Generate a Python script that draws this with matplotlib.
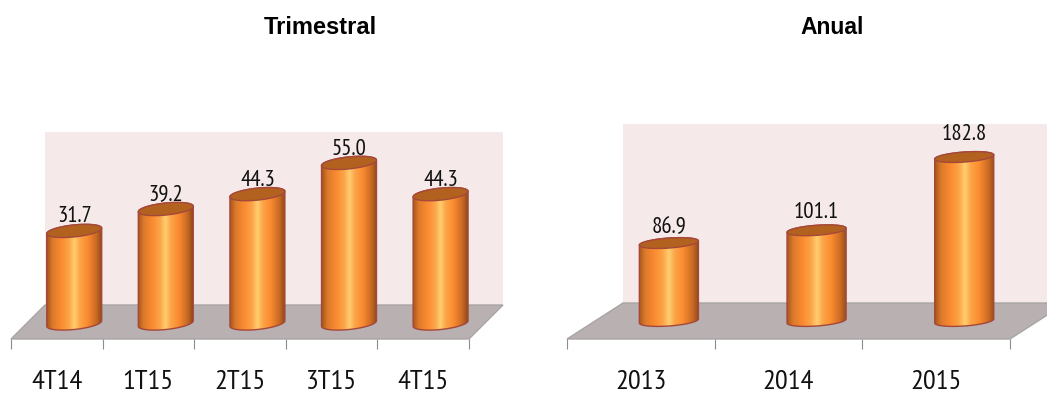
import numpy as np
import matplotlib
matplotlib.use("Agg")
import matplotlib.pyplot as plt
from matplotlib.colors import LinearSegmentedColormap
from matplotlib.patches import PathPatch, Polygon
from matplotlib.path import Path
from matplotlib.transforms import Affine2D

# ─── DATA ─────────────────────────────────────────────
quarters = ["4T14", "1T15", "2T15", "3T15", "4T15"]
quarter_values = [31.7, 39.2, 44.3, 55.0, 44.3]
years = ["2013", "2014", "2015"]
year_values = [86.9, 101.1, 182.8]

# ─── STYLE ────────────────────────────────────────────
W, H = 1047, 394
WALL = "#f5e9ea"
FLOOR = "#b8b0b1"
TOP_FACE = "#b3611f"
EDGE = "#a5483a"
TICK = "#8c8c8c"
NARROW = ["PT Sans Narrow", "Liberation Sans", "DejaVu Sans"]

body_cmap = LinearSegmentedColormap.from_list("cyl", [
    (0.00, "#a9571c"), (0.10, "#dc7a2b"), (0.26, "#fb8b31"), (0.40, "#fca548"),
    (0.50, "#ffcf70"), (0.60, "#fca548"), (0.74, "#fb8b31"), (0.90, "#c96a24"),
    (1.00, "#8f4a1a"),
])

fig = plt.figure(figsize=(W / 100, H / 100), dpi=100)
# coordinates counted from the top left corner of the figure
px = Affine2D().scale(1, -1).translate(0, H)


def make_axes(left, right, top, bottom):
    ax = fig.add_axes([left / W, 1 - bottom / H, (right - left) / W, (bottom - top) / H])
    ax.patch.set_visible(False)
    ax.set_zorder(2)
    for s in ax.spines.values():
        s.set_visible(False)
    return ax


def draw_cylinder(ax, xc, value, half_w, px_x, px_y, tilt, b):
    # outline of the body plus the tilted elliptical cap, in data units
    a = half_w * px_x
    t = np.linspace(0, 2 * np.pi, 80)
    ex = a * np.cos(t) / px_x
    ey = -(b * np.sin(t) - tilt * a * np.cos(t)) / px_y
    low = np.linspace(0, np.pi, 40)
    bx = a * np.cos(low) / px_x
    by = -(b * np.sin(low) - tilt * a * np.cos(low)) / px_y
    tx = a * np.cos(low[::-1]) / px_x
    ty = (b * np.sin(low[::-1]) + tilt * a * np.cos(low[::-1])) / px_y

    verts = np.vstack([np.column_stack([xc + bx, by]),
                       np.column_stack([xc + tx, value + ty])])
    body = PathPatch(Path(np.vstack([verts, verts[0]])), fc="none", ec=EDGE, lw=1.0,
                     zorder=4, clip_on=False)
    ax.add_patch(body)
    img = ax.imshow(np.linspace(0, 1, 128)[None, :], cmap=body_cmap, aspect="auto",
                    extent=[xc - half_w, xc + half_w, by.min(), value + ty.max()],
                    zorder=3, clip_on=True)
    img.set_clip_path(body)
    ax.add_patch(Polygon(np.column_stack([xc + ex, value + ey]), closed=True,
                         fc=TOP_FACE, ec=EDGE, lw=1.0, zorder=5, clip_on=False))


def draw_panel(labels, values, ax_x, base_y, scale, half_w, b, tilt, wall, floor, gaps):
    left, right = ax_x
    ax = make_axes(left, right, 60, 339)
    n = len(labels)
    px_x = (right - left) / n
    fig.add_artist(Polygon(wall, closed=True, fc=WALL, ec="none", transform=px, zorder=0))
    fig.add_artist(Polygon(floor, closed=True, fc=FLOOR, ec="#a9a5a5", lw=1.0, transform=px, zorder=0.5))

    for i, v in enumerate(values):
        xc = i + 0.19
        draw_cylinder(ax, xc, v, half_w, px_x, scale, tilt, b)
        ax.annotate(f"{v:.1f}", (xc, v), xytext=(0, gaps[i]), textcoords="offset pixels",
                    ha="center", va="center", fontsize=16.5, family=NARROW,
                    color="#111111", zorder=6, annotation_clip=False)

    ax.set_xlim(-0.5, n - 0.5)
    ax.set_ylim(-(339 - base_y) / scale, (base_y - 60) / scale)
    ax.set_yticks([])
    ax.set_xticks(np.arange(n + 1) - 0.5)
    ax.set_xticklabels([])
    ax.set_xticks(np.arange(n), minor=True)
    ax.set_xticklabels(labels, minor=True, fontsize=20.5, family=NARROW, color="#111111")
    ax.tick_params(axis="x", which="major", length=7.2, width=0.8, color=TICK)
    ax.tick_params(axis="x", which="minor", length=0, pad=22)
    return ax


draw_panel(quarters, quarter_values, (11, 469), 323.5, 2.92, 0.30, 6, 0.10,
           [(45, 132), (503, 132), (503, 305), (45, 305)],
           [(11, 339), (45, 305), (503, 305), (469, 339)],
           [14, 14, 14, 13, 14])
draw_panel(years, year_values, (567, 1010), 321, 0.897, 0.20, 5, 0.07,
           [(623, 124), (1066, 124), (1066, 303), (623, 303)],
           [(567, 339), (623, 303), (1066, 303), (1010, 339)],
           [15, 18, 23])

fig.text(320.5 / W, 1 - 27.5 / H, "Trimestral", ha="center", va="center", fontsize=17,
         fontweight="bold", family=["Liberation Sans", "DejaVu Sans"], color="black")
fig.text(832 / W, 1 - 27.5 / H, "Anual", ha="center", va="center", fontsize=16.5,
         fontweight="bold", family=["Liberation Sans", "DejaVu Sans"], color="black")

fig.savefig("out.png", dpi=100)
